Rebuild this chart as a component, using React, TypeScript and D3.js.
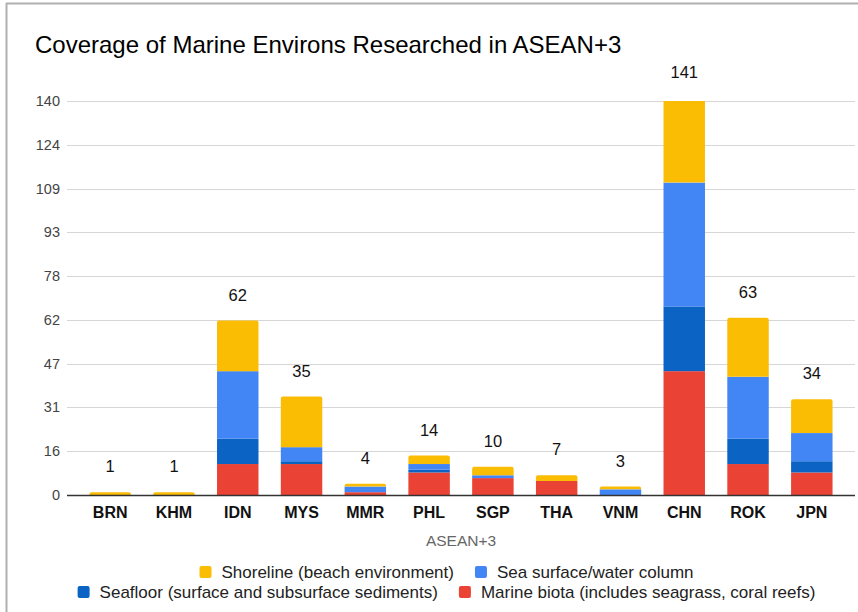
import React, { useEffect, useRef } from 'react';
import * as d3 from 'd3';

// values
const countries = ['BRN', 'KHM', 'IDN', 'MYS', 'MMR', 'PHL', 'SGP', 'THA', 'VNM', 'CHN', 'ROK', 'JPN'];
const marineBiota = [0, 0, 11, 11, 1, 8, 6, 5, 0, 44, 11, 8];
const seafloor = [0, 0, 9, 1, 0, 1, 0, 0, 0, 23, 9, 4];
const seaSurface = [0, 0, 24, 5, 2, 2, 1, 0, 2, 44, 22, 10];
const shoreline = [1, 1, 18, 18, 1, 3, 3, 2, 1, 30, 21, 12];
const totals = [1, 1, 62, 35, 4, 14, 10, 7, 3, 141, 63, 34];
const yTickLabels = ['0', '16', '31', '47', '62', '78', '93', '109', '124', '140'];
const yMax = 140;

const seriesNames = [
  'Marine biota (includes seagrass, coral reefs)',
  'Seafloor (surface and subsurface sediments)',
  'Sea surface/water column',
  'Shoreline (beach environment)',
];
const seriesColors = ['#ea4335', '#0b64c4', '#4285f4', '#fbbc04'];

const FONT = "Arial, 'Liberation Sans', sans-serif";

function App() {
  const ref = useRef<SVGSVGElement | null>(null);

  useEffect(() => {
    document.body.style.margin = '0';
    drawChart();
  }, []);

  function drawChart() {
    const svg = d3.select(ref.current);
    svg.selectAll('*').remove();

    const width = 858;
    const height = 612;

    // frame lines at top and left like the screenshot
    svg.append('line').attr('x1', 6).attr('x2', width).attr('y1', 3.5).attr('y2', 3.5)
      .attr('stroke', '#b0b0b0').attr('stroke-width', 2);
    svg.append('line').attr('x1', 6.5).attr('x2', 6.5).attr('y1', 3).attr('y2', height)
      .attr('stroke', '#b0b0b0').attr('stroke-width', 2);

    svg.append('text')
      .attr('x', 35).attr('y', 53)
      .attr('font-family', FONT).attr('font-size', 24).attr('fill', '#000')
      .text('Coverage of Marine Environs Researched in ASEAN+3');

    const y = d3.scaleLinear().domain([0, yMax]).range([495, 101]);
    const x = d3.scaleBand<string>()
      .domain(countries)
      .range([78.3, 843.7])
      .paddingInner(0.35)
      .paddingOuter(0.175);

    // gridlines + y labels
    const g = svg.append('g');
    yTickLabels.forEach((lab, i) => {
      const v = (i * yMax) / (yTickLabels.length - 1);
      if (i > 0) {
        g.append('line')
          .attr('x1', 67).attr('x2', 855)
          .attr('y1', Math.round(y(v)) + 0.5).attr('y2', Math.round(y(v)) + 0.5)
          .attr('stroke', '#d6d6d6').attr('stroke-width', 1);
      }
      g.append('text')
        .attr('x', 60).attr('y', y(v) + 5)
        .attr('text-anchor', 'end')
        .attr('font-family', FONT).attr('font-size', 14.5).attr('fill', '#444')
        .text(lab);
    });

    // stacked bars
    const table = countries.map((c, i) => ({
      country: c,
      s0: marineBiota[i],
      s1: seafloor[i],
      s2: seaSurface[i],
      s3: shoreline[i],
    }));
    const stack = d3.stack<any>().keys(['s0', 's1', 's2', 's3']);
    const layers = stack(table);

    svg.append('defs').append('clipPath').attr('id', 'plotClip')
      .append('rect').attr('x', 0).attr('y', y(yMax)).attr('width', width).attr('height', y(0) - y(yMax));

    const bars = svg.append('g').attr('clip-path', 'url(#plotClip)');
    const r = 2;
    layers.forEach((layer, li) => {
      layer.forEach((d, ci) => {
        if (d[1] <= d[0]) return;
        const x0 = x(countries[ci]) as number;
        const w = x.bandwidth();
        const top = y(d[1]);
        const bottom = y(d[0]);
        const isTop = d[1] === totals[ci];
        if (isTop) {
          const p = d3.path();
          p.moveTo(x0, bottom);
          p.lineTo(x0, top + r);
          p.quadraticCurveTo(x0, top, x0 + r, top);
          p.lineTo(x0 + w - r, top);
          p.quadraticCurveTo(x0 + w, top, x0 + w, top + r);
          p.lineTo(x0 + w, bottom);
          p.closePath();
          bars.append('path').attr('d', p.toString()).attr('fill', seriesColors[li]);
        } else {
          bars.append('rect')
            .attr('x', x0).attr('y', top)
            .attr('width', w).attr('height', bottom - top)
            .attr('fill', seriesColors[li]);
        }
      });
    });

    // baseline
    svg.append('line')
      .attr('x1', 67).attr('x2', 855)
      .attr('y1', 495.5).attr('y2', 495.5)
      .attr('stroke', '#333').attr('stroke-width', 1.3);

    // total labels
    svg.append('g').selectAll('text').data(countries).enter().append('text')
      .attr('x', d => (x(d) as number) + x.bandwidth() / 2)
      .attr('y', (d, i) => y(totals[i]) - 20)
      .attr('text-anchor', 'middle')
      .attr('font-family', FONT).attr('font-size', 16.5).attr('fill', '#111')
      .text((d, i) => String(totals[i]));

    // x labels
    svg.append('g').selectAll('text').data(countries).enter().append('text')
      .attr('x', d => (x(d) as number) + x.bandwidth() / 2)
      .attr('y', 518)
      .attr('text-anchor', 'middle')
      .attr('font-family', FONT).attr('font-size', 16).attr('font-weight', 'bold').attr('fill', '#111')
      .text(d => d);

    svg.append('text')
      .attr('x', 461).attr('y', 546)
      .attr('text-anchor', 'middle')
      .attr('font-family', FONT).attr('font-size', 15.5).attr('fill', '#666')
      .text('ASEAN+3');

    // legend, two centered rows
    const rows = [
      { y: 572, items: [3, 2] },
      { y: 592, items: [1, 0] },
    ];
    const legendCenter = 446.5;
    rows.forEach(row => {
      const lg = svg.append('g');
      let cx = 0;
      row.items.forEach((si, k) => {
        if (k > 0) cx += 21;
        lg.append('rect')
          .attr('x', cx).attr('y', row.y - 6)
          .attr('width', 12).attr('height', 12).attr('rx', 2)
          .attr('fill', seriesColors[si]);
        const t = lg.append('text')
          .attr('x', cx + 22).attr('y', row.y + 6)
          .attr('font-family', FONT).attr('font-size', 17).attr('fill', '#222')
          .text(seriesNames[si]);
        const tw = (t.node() as SVGTextElement).getComputedTextLength();
        cx += 22 + tw;
      });
      lg.attr('transform', `translate(${legendCenter - cx / 2},0)`);
    });
  }

  return (
    <svg ref={ref} width={858} height={612} style={{ display: 'block', background: '#fff' }}></svg>
  );
}

export default App;
